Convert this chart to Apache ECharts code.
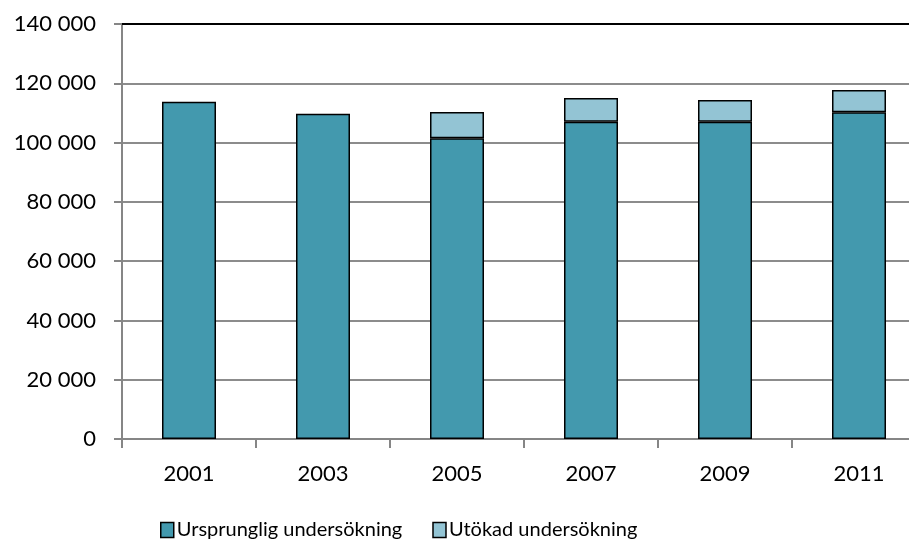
<!DOCTYPE html>
<html>
<head>
<meta charset="utf-8">
<script src="https://cdn.jsdelivr.net/npm/echarts@6/dist/echarts.min.js"></script>
<style>
html,body{margin:0;padding:0;background:#fff;}
#c{width:909px;height:541px;}
</style>
</head>
<body>
<div id="c"></div>
<script>
const categories = ['2001', '2003', '2005', '2007', '2009', '2011'];
const ursprunglig = [113800, 109700, 101500, 107000, 107000, 110200];
const utokad = [0, 0, 8800, 8000, 7400, 7500];
const seriesNames = ['Ursprunglig undersökning', 'Utökad undersökning'];
const yTicks = [0, 20000, 40000, 60000, 80000, 100000, 120000, 140000];

const FONT = 'Lato';
const chart = echarts.init(document.getElementById('c'), null, {renderer: 'canvas'});
function fmt(v) {
  const s = String(v);
  if (v >= 1000) return s.slice(0, s.length - 3) + ' ' + s.slice(-3);
  return s;
}
chart.setOption({
  animation: false,
  textStyle: {fontFamily: FONT},
  grid: {left: 122, top: 24, width: 804, height: 415, outerBoundsMode: 'none', containLabel: false},
  legend: {
    data: seriesNames,
    top: 515,
    left: 155,
    itemWidth: 13,
    itemHeight: 15,
    itemGap: 30,
    icon: 'rect',
    textStyle: {fontFamily: FONT, fontSize: 20, color: '#000', padding: [0, 0, 0, -2]},
    itemStyle: {borderColor: '#000', borderWidth: 1.5}
  },
  xAxis: [{
    type: 'category',
    data: categories,
    position: 'bottom',
    axisLine: {lineStyle: {color: '#868686', width: 2}},
    axisTick: {show: true, length: 9, lineStyle: {color: '#868686', width: 2}},
    axisLabel: {color: '#000', fontSize: 22, fontFamily: FONT, margin: 24}
  }, {
    type: 'category',
    data: categories,
    position: 'top',
    axisLine: {lineStyle: {color: '#000', width: 2}},
    axisTick: {show: false},
    axisLabel: {show: false}
  }],
  yAxis: {
    type: 'value',
    min: 0,
    max: 140000,
    interval: 20000,
    axisLine: {show: true, lineStyle: {color: '#868686', width: 2}},
    axisTick: {show: true, length: 8, lineStyle: {color: '#868686', width: 2}},
    splitLine: {lineStyle: {color: '#8c8c8c', width: 2}},
    axisLabel: {color: '#000', fontSize: 22, fontFamily: FONT, margin: 26, formatter: fmt}
  },
  series: [{
    name: seriesNames[0],
    type: 'bar',
    stack: 'total',
    data: ursprunglig,
    barWidth: 54,
    itemStyle: {color: '#4399AE', borderColor: '#000', borderWidth: 1.5}
  }, {
    name: seriesNames[1],
    type: 'bar',
    stack: 'total',
    data: utokad.map(v => v === 0 ? null : v),
    barWidth: 54,
    itemStyle: {color: '#93C4D4', borderColor: '#000', borderWidth: 1.5}
  }]
});
</script>
</body>
</html>
